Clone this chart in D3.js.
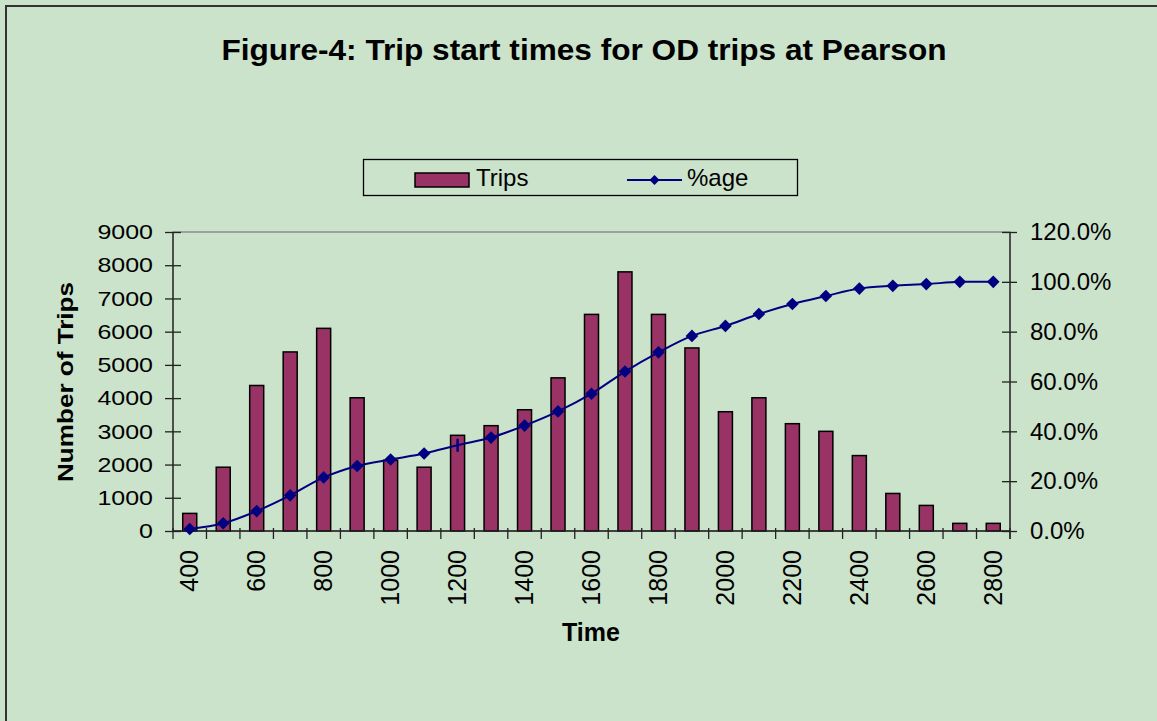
<!doctype HTML>
<meta charset="utf-8">
<title>Trip start times</title>

<style>
body {
  margin: 0px;
}
svg {
  background-color: #cbe2cb;
  font-family: Arial, "Liberation Sans", sans-serif;
}
.bar {
  fill: #993366;
  stroke: #000;
  stroke-width: 1.5px;
}
.pctline {
  fill: none;
  stroke: #000080;
  stroke-width: 2px;
}
.marker {
  fill: #000080;
}
.axis path, .axis line {
  stroke: #222;
  stroke-width: 1.3px;
}
.axis text {
  fill: #000;
}
</style>

<script src="https://d3js.org/d3.v7.min.js"></script>

<body>
<script>
var width = 1157, height = 721;

// chart data
var times = [400, 500, 600, 700, 800, 900, 1000, 1100, 1200, 1300, 1400, 1500, 1600,
             1700, 1800, 1900, 2000, 2100, 2200, 2300, 2400, 2500, 2600, 2700, 2800];
var trips = [530, 1920, 4380, 5390, 6100, 4010, 2130, 1920, 2880, 3170, 3650, 4610, 6520,
             7800, 6520, 5510, 3590, 4010, 3230, 3000, 2270, 1130, 770, 230, 230];
var pct = [0.8, 3.1, 8.0, 14.3, 21.5, 26.1, 28.7, 31.1, 34.4, 37.5, 42.3, 48.0, 55.1,
           64.0, 71.7, 78.3, 82.3, 87.1, 91.1, 94.3, 97.3, 98.4, 99.1, 100, 100];
var tripTicks = [0, 1000, 2000, 3000, 4000, 5000, 6000, 7000, 8000, 9000];
var pctTicks = [0, 20, 40, 60, 80, 100, 120];
var dashPoints = [1200]; // point drawn with a dash instead of a diamond

var rows = times.map(function(t, i) { return {t: t, trips: trips[i], pct: pct[i]}; });

var svg = d3.select("body").append("svg")
    .attr("width", width)
    .attr("height", height);

// outer frame (only left/top visible)
svg.append("rect")
    .attr("x", 6).attr("y", 6)
    .attr("width", width + 20).attr("height", height + 20)
    .attr("fill", "none")
    .attr("stroke", "#333")
    .attr("stroke-width", 2);

var pLeft = 173, pRight = 1010, pTop = 232, pBottom = 531;

var x = d3.scaleBand()
    .domain(times)
    .range([pLeft, pRight]);
var y = d3.scaleLinear()
    .domain([0, 9000])
    .range([pBottom, pTop]);
var y2 = d3.scaleLinear()
    .domain([0, 120])
    .range([pBottom, pTop]);

var barW = 14;

// plot area border
svg.append("rect")
    .attr("x", pLeft).attr("y", pTop)
    .attr("width", pRight - pLeft).attr("height", pBottom - pTop)
    .attr("fill", "none")
    .attr("stroke", "#808080")
    .attr("stroke-width", 1.3);

// bars
svg.append("g").selectAll("rect.bar")
    .data(rows)
  .enter().append("rect")
    .attr("class", "bar")
    .attr("x", function(d) { return x(d.t) + x.bandwidth() / 2 - barW / 2; })
    .attr("y", function(d) { return y(d.trips); })
    .attr("width", barW)
    .attr("height", function(d) { return y(0) - y(d.trips); });

// left axis
var gy = svg.append("g")
    .attr("class", "axis")
    .attr("transform", "translate(" + pLeft + ",0)")
    .call(d3.axisLeft(y).tickValues(tripTicks).tickSize(8).tickPadding(0).tickFormat(d3.format("d")));
gy.select(".domain").attr("d", "M0," + pTop + "V" + pBottom);
gy.selectAll(".tick line").attr("x1", 8);
gy.selectAll(".tick text")
    .style("font-size", "21px")
    .attr("x", 0)
    .attr("transform", "translate(-20,0) scale(1.19,1)");

// right axis
var gy2 = svg.append("g")
    .attr("class", "axis")
    .attr("transform", "translate(" + pRight + ",0)")
    .call(d3.axisRight(y2).tickValues(pctTicks).tickSize(7).tickPadding(13)
      .tickFormat(function(d) { return d.toFixed(1) + "%"; }));
gy2.select(".domain").attr("d", "M0," + pTop + "V" + (pBottom + 8));
gy2.selectAll(".tick line").attr("x1", -8);
gy2.selectAll(".tick text").style("font-size", "24px");

// bottom axis: ticks on category boundaries, labels every other category
var gx = svg.append("g")
    .attr("class", "axis")
    .attr("transform", "translate(0," + pBottom + ")")
    .call(d3.axisBottom(x).tickSize(0).tickPadding(0)
      .tickFormat(function(d, i) { return i % 2 === 0 ? d : ""; }));
gx.select(".domain").attr("d", "M" + pLeft + ",0H" + pRight);
gx.selectAll(".tick text")
    .style("font-size", "25px")
    .attr("text-anchor", "end")
    .attr("dy", "0.35em")
    .attr("y", 0)
    .attr("transform", "translate(0,19) rotate(-90)");
gx.selectAll("line.bound")
    .data(times.concat([null]))
  .enter().append("line")
    .attr("class", "bound")
    .attr("x1", function(d) { return d === null ? pRight : x(d); })
    .attr("x2", function(d) { return d === null ? pRight : x(d); })
    .attr("y1", -3)
    .attr("y2", 8);

// cumulative percentage line
var line = d3.line()
    .x(function(d) { return x(d.t) + x.bandwidth() / 2; })
    .y(function(d) { return y2(d.pct); })
    .curve(d3.curveCatmullRom.alpha(0.5));
svg.append("path")
    .datum(rows)
    .attr("class", "pctline")
    .attr("d", line);

var diamond = d3.symbol().type(d3.symbolSquare).size(80);
svg.append("g").selectAll("path.marker")
    .data(rows.filter(function(d) { return dashPoints.indexOf(d.t) < 0; }))
  .enter().append("path")
    .attr("class", "marker")
    .attr("d", diamond)
    .attr("transform", function(d) {
      return "translate(" + (x(d.t) + x.bandwidth() / 2) + "," + y2(d.pct) + ") rotate(45)";
    });
svg.append("g").selectAll("line.dash")
    .data(rows.filter(function(d) { return dashPoints.indexOf(d.t) >= 0; }))
  .enter().append("line")
    .attr("stroke", "#000080")
    .attr("stroke-width", 2.5)
    .attr("x1", function(d) { return x(d.t) + x.bandwidth() / 2; })
    .attr("x2", function(d) { return x(d.t) + x.bandwidth() / 2; })
    .attr("y1", function(d) { return y2(d.pct) - 6.5; })
    .attr("y2", function(d) { return y2(d.pct) + 6.5; });

// title
svg.append("text")
    .attr("x", 584)
    .attr("y", 60)
    .attr("text-anchor", "middle")
    .attr("textLength", 725)
    .attr("lengthAdjust", "spacingAndGlyphs")
    .style("font-size", "30px")
    .style("font-weight", "bold")
    .text("Figure-4: Trip start times for OD trips at Pearson");

// axis titles
svg.append("text")
    .attr("transform", "translate(72.5,382) rotate(-90)")
    .attr("text-anchor", "middle")
    .attr("textLength", 200)
    .attr("lengthAdjust", "spacingAndGlyphs")
    .style("font-size", "22px")
    .style("font-weight", "bold")
    .text("Number of Trips");
svg.append("text")
    .attr("x", 591)
    .attr("y", 641)
    .attr("text-anchor", "middle")
    .style("font-size", "25px")
    .style("font-weight", "bold")
    .text("Time");

// legend
var legend = svg.append("g");
legend.append("rect")
    .attr("x", 363.5).attr("y", 159.5)
    .attr("width", 434).attr("height", 36)
    .attr("fill", "none")
    .attr("stroke", "#000")
    .attr("stroke-width", 1.3);
legend.append("rect")
    .attr("class", "bar")
    .attr("x", 415).attr("y", 173)
    .attr("width", 54).attr("height", 14);
legend.append("text")
    .attr("x", 476).attr("y", 185.5)
    .style("font-size", "24px")
    .text("Trips");
legend.append("line")
    .attr("class", "pctline")
    .attr("x1", 627).attr("x2", 682)
    .attr("y1", 180).attr("y2", 180);
legend.append("path")
    .attr("class", "marker")
    .attr("d", d3.symbol().type(d3.symbolSquare).size(50))
    .attr("transform", "translate(654.5,180) rotate(45)");
legend.append("text")
    .attr("x", 687).attr("y", 185.5)
    .style("font-size", "24px")
    .text("%age");
</script>
